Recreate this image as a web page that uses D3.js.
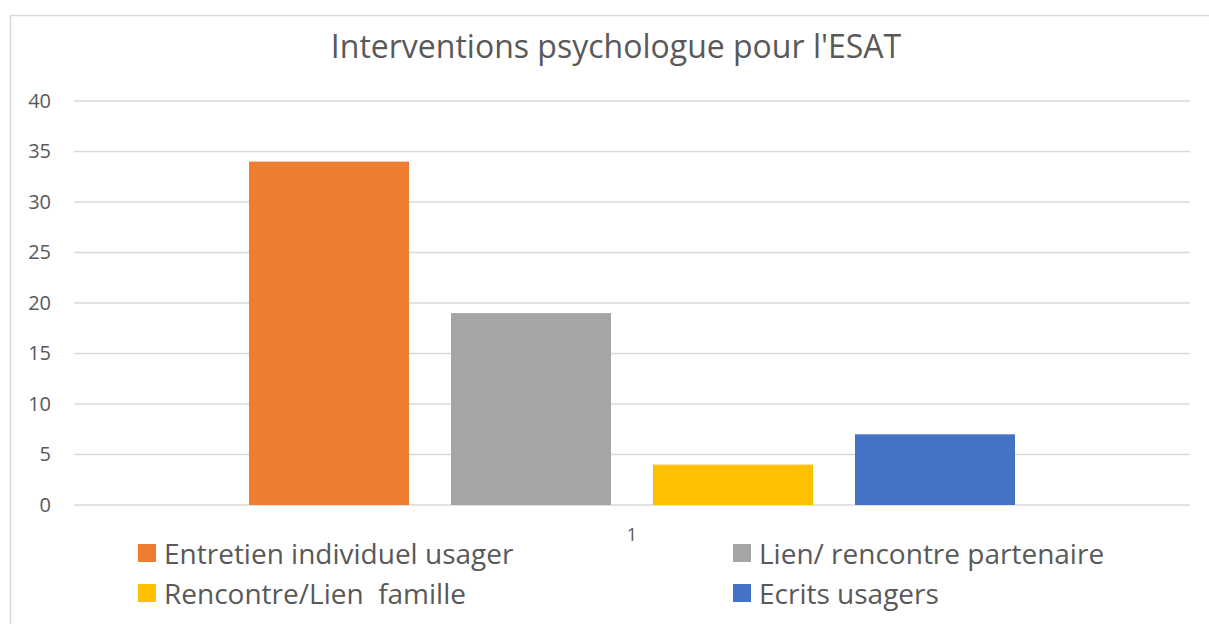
<!DOCTYPE html>
<html>
<head>
<meta charset="utf-8">
<script src="https://cdn.jsdelivr.net/npm/d3@7"></script>
<style>
  body { margin: 0; background: #fff; }
  text { font-family: "Open Sans", sans-serif; fill: #595959; white-space: pre; }
</style>
</head>
<body>
<div id="chart-area"></div>
<script>
// Chart data
var categories = ["1"];
var seriesNames = ["Entretien individuel usager", "Lien/ rencontre partenaire", "Rencontre/Lien  famille", "Ecrits usagers"];
var seriesValues = [34, 19, 4, 7];
var seriesColors = ["#ED7D31", "#A5A5A5", "#FFC000", "#4472C4"];
var yTicks = [0, 5, 10, 15, 20, 25, 30, 35, 40];

var W = 1209, H = 624;
var margin = { top: 101, bottom: 119, left: 74, right: 19 };
var width  = W - margin.left - margin.right;
var height = H - margin.top - margin.bottom;

var svg = d3.select('#chart-area')
  .append('svg')
    .attr('width', W)
    .attr('height', H);

// chart border
svg.append('rect')
  .attr('x', 10.5).attr('y', 15.5)
  .attr('width', W).attr('height', H)
  .attr('fill', 'none')
  .attr('stroke', '#d9d9d9')
  .attr('stroke-width', 1.5);

// title
svg.append('text')
  .attr('x', 616)
  .attr('y', 58)
  .attr('text-anchor', 'middle')
  .attr('font-size', '32px')
  .text("Interventions psychologue pour l'ESAT");

var g = svg.append('g')
  .attr('transform', 'translate(' + margin.left + ',' + margin.top + ')');

var y = d3.scaleLinear().domain([0, 40]).range([height, 0]);

var x0 = d3.scaleBand()
  .domain(categories)
  .range([0, width])
  .paddingOuter(0.2285);

var x1 = d3.scaleBand()
  .domain(seriesNames)
  .range([0, x0.bandwidth()])
  .paddingInner(0.208)
  .paddingOuter(0);

// gridlines
g.selectAll('.grid')
  .data(yTicks)
  .enter().append('line')
    .attr('class', 'grid')
    .attr('x1', 0).attr('x2', width)
    .attr('y1', function(d) { return y(d); })
    .attr('y2', function(d) { return y(d); })
    .attr('stroke', '#d9d9d9')
    .attr('stroke-width', 1.5);

// y axis labels
var yAxis = d3.axisLeft(y).tickValues(yTicks).tickSize(0).tickPadding(23);
var yAxisGroup = g.append('g').call(yAxis);
yAxisGroup.select('.domain').remove();
yAxisGroup.selectAll('text')
  .attr('font-size', '20px')
  .attr('font-family', '"Open Sans", sans-serif')
  .attr('fill', '#595959');

// bars
var groups = g.selectAll('.cat')
  .data(categories)
  .enter().append('g')
    .attr('class', 'cat')
    .attr('transform', function(d) { return 'translate(' + x0(d) + ',0)'; });

groups.selectAll('rect')
  .data(seriesNames.map(function(n, i) { return { name: n, value: seriesValues[i], color: seriesColors[i] }; }))
  .enter().append('rect')
    .attr('x', function(d) { return x1(d.name); })
    .attr('width', x1.bandwidth())
    .attr('y', function(d) { return y(d.value); })
    .attr('height', function(d) { return height - y(d.value); })
    .attr('fill', function(d) { return d.color; });

// x axis labels
var xAxis = d3.axisBottom(x0).tickSize(0).tickPadding(23);
var xAxisGroup = g.append('g')
  .attr('transform', 'translate(0,' + height + ')')
  .call(xAxis);
xAxisGroup.select('.domain').remove();
xAxisGroup.selectAll('text')
  .attr('font-size', '18px')
  .attr('font-family', '"Open Sans", sans-serif')
  .attr('fill', '#595959');

// legend
var legendCols = [138, 733];
var legendRows = [553, 593];
var legend = svg.selectAll('.legend')
  .data(seriesNames)
  .enter().append('g')
    .attr('class', 'legend')
    .attr('transform', function(d, i) {
      return 'translate(' + legendCols[i % 2] + ',' + legendRows[Math.floor(i / 2)] + ')';
    });

legend.append('rect')
  .attr('x', 0).attr('y', -9)
  .attr('width', 18).attr('height', 18)
  .attr('fill', function(d, i) { return seriesColors[i]; });

legend.append('text')
  .attr('x', 26)
  .attr('y', 1)
  .attr('dy', '0.35em')
  .attr('font-size', '28px')
  .text(function(d) { return d; });
</script>
</body>
</html>
